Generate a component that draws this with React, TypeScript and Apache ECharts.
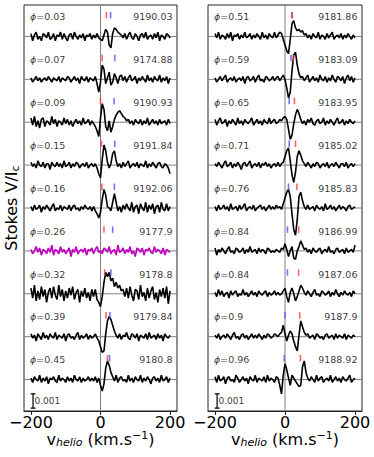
import React, { useEffect, useRef } from 'react';
import * as echarts from 'echarts';

// velocity sampling of the spectra (km/s)
const V_START = -200;
const V_STEP = 5;
// vertical offset between stacked profiles (Stokes V / Ic)
const OFFSET = 0.003;
const UNIT = 1e-4; // profile values are given in units of 1e-4
const X_MIN = -220;
const X_MAX = 220;
const Y_MIN = -22 * UNIT;
const Y_MAX = 8 * OFFSET + 22 * UNIT;

const leftPhases = ['0.03', '0.07', '0.09', '0.15', '0.16', '0.26', '0.32', '0.39', '0.45'];
const leftDates = ['9190.03', '9174.88', '9190.93', '9191.84', '9192.06', '9177.9', '9178.8', '9179.84', '9180.8'];
const leftRed = [17, 5, 0, 3, 4, 10, 12, 16, 20];
const leftBlue = [29, 41, 39, 41, 40, 35, 30, 27, 26];

const rightPhases = ['0.51', '0.59', '0.65', '0.71', '0.76', '0.84', '0.84', '0.9', '0.96'];
const rightDates = ['9181.86', '9183.09', '9183.95', '9185.02', '9185.83', '9186.99', '9187.06', '9187.9', '9188.92'];
const rightRed = [19, 24, 27, 30, 34, 39, 39, 42, 44];
const rightBlue = [21, 17, 12, 12, 10, 7, 7, 0, -2];

const xTicks = [-200, 0, 200];
const scaleBar = 0.001;

// Stokes V profiles (1e-4 units), sampled from -200 to 200 km/s every 5 km/s
const p003 = [2,-3,1,3,-2,0,-3,2,1,-1,3,-2,-1,2,-3,1,0,3,-2,2,-1,-3,1,2,-2,3,0,-2,1,-1,2,-3,1,0,2,-2,1,-1,2,-1,-2,-3,1,5,3,-6,-8,2,6,5,3,2,1,-1,2,-2,1,3,-1,-2,2,0,-3,1,2,-1,3,-2,0,1,-2,2,-1,3,-3,1,0,-2,2,1,-1];
const p007 = [1,-2,0,2,-1,1,-2,0,1,-1,2,0,-2,1,0,-1,2,-2,1,0,-1,2,1,-2,0,2,-1,1,-3,2,0,-1,2,-2,1,0,-1,2,-3,-9,-2,10,7,-3,1,5,-4,-2,4,1,-3,2,3,-1,2,-2,1,3,-1,0,2,-3,1,-1,2,0,-2,3,-1,1,-2,2,0,-1,3,-2,1,-1,2,-3,1];
const p009 = [3,-2,4,-3,1,-4,2,3,-3,1,0,-2,4,-1,2,-3,1,0,-2,3,-1,2,-2,1,-3,0,2,-1,1,-2,3,-1,0,2,-2,1,-1,-3,-6,-10,3,13,9,-3,-6,1,-7,-3,2,5,7,8,6,4,3,1,2,-1,1,-2,2,0,-1,2,-2,1,-1,3,-2,0,2,-1,1,-2,2,-1,0,1,-2,2,-1];
const p015 = [2,-1,1,-2,3,0,-1,2,-2,1,1,-3,2,0,-1,2,-1,1,-2,3,-1,0,2,-2,1,-1,2,1,-2,0,1,-1,2,-2,0,1,-1,1,-2,-6,-9,4,14,10,2,-2,1,8,10,3,-1,1,-2,2,-1,1,3,-2,0,1,-1,2,-2,1,0,-1,3,-2,1,-1,2,0,-2,1,2,-1,-2,1,0,-2,-6];
const p016 = [1,-2,2,-1,0,2,-3,1,-1,2,0,-2,1,3,-2,0,-1,2,-2,1,0,-1,2,-2,1,2,-1,0,-2,1,-1,2,0,-1,1,-2,1,-2,-4,-7,-3,6,13,9,1,0,-2,4,10,4,-2,1,-3,2,-1,3,0,-2,4,-3,1,2,-4,3,0,-2,4,-3,2,-1,3,-4,1,2,-3,4,-1,-2,3,-2,1];
const p026 = [1,-2,0,3,-1,2,-3,1,0,-2,2,-1,4,-3,1,0,-2,3,-1,1,-2,0,2,-4,1,-1,3,-2,0,1,-1,2,-3,1,0,2,-2,1,3,-1,0,-2,2,1,-1,3,-2,0,1,-3,4,-1,0,2,-2,1,-1,3,-2,0,-4,2,1,-1,2,-3,1,0,2,-1,-2,3,-1,1,0,-2,2,-3,1,0,-1];
const p032 = [4,-3,6,-5,2,-4,5,-2,3,-6,1,4,-3,5,-1,-4,6,-2,3,-5,2,-3,4,-1,5,-4,1,3,-6,2,-2,4,-3,1,-5,3,-2,3,-4,-6,-9,-2,8,15,12,15,9,11,5,8,4,6,2,3,-2,4,-3,5,-1,-5,3,2,-4,6,-2,1,-5,4,-3,2,5,-4,1,-6,3,-2,4,-3,5,-7,2];
const p039 = [2,-1,1,-3,2,0,-2,3,-1,1,-2,2,0,-1,3,-2,1,0,-1,2,-3,1,2,-1,0,-2,1,3,-2,1,-1,0,2,-2,1,-1,0,2,-1,-3,-7,-11,-10,2,11,14,12,8,4,1,-1,2,-2,1,0,3,-1,-2,2,1,-1,2,-3,1,0,-1,2,-2,3,-1,0,1,-2,2,-1,1,-3,2,0,-1,1];
const p045 = [1,-2,2,0,-1,3,-2,1,-1,2,-3,1,0,2,-1,-2,3,-1,1,0,-2,2,-1,1,-2,3,0,-1,2,-2,1,-1,0,2,-1,1,-1,2,-2,1,-4,-8,-3,8,13,10,5,2,-1,3,-2,1,2,-1,0,-2,3,-1,1,-2,2,0,-1,3,-2,1,-1,2,0,-3,1,2,-1,1,-2,3,-1,0,2,-2,1];

const p051 = [2,-1,3,-2,1,0,-2,2,-1,3,-3,1,0,2,-2,1,-1,3,-1,0,2,-2,1,-1,2,0,-2,3,-1,1,-2,2,0,-1,3,-1,1,3,2,-2,-6,-10,-12,-2,9,11,6,4,5,3,4,1,2,-1,1,-2,2,0,-1,3,-2,1,0,-2,2,-1,1,3,-2,0,1,-1,2,-2,1,-1,2,0,-2,1,-1];
const p059 = [1,-2,0,2,-1,1,3,-2,0,1,-1,2,-2,0,1,-1,2,-3,1,2,-1,0,2,-2,1,3,-1,0,-2,2,1,-1,0,2,-1,1,2,-1,1,3,0,-6,-13,-9,6,17,19,10,4,1,2,-1,1,3,-2,0,2,-1,1,-2,3,0,-1,2,-2,1,-1,3,0,-2,2,1,-1,2,-3,1,3,-1,2,-2,1];
const p065 = [2,-2,1,3,-1,0,2,-3,1,-1,2,0,-2,3,-1,1,-2,2,0,-1,1,3,-2,0,2,-1,1,-2,2,0,-1,3,-1,1,2,-1,0,2,1,3,4,2,-5,-12,-9,-1,5,9,6,2,-1,1,-2,2,0,3,-1,-2,1,2,-1,0,3,-2,1,-1,2,0,-2,1,3,-1,0,2,-2,1,-1,2,0,-1,1];
const p071 = [1,-1,2,0,-2,1,3,-1,0,2,-2,1,-1,2,0,-3,1,2,-1,1,3,-2,0,1,-1,2,-2,1,0,2,-1,1,-2,0,1,-1,2,-1,1,2,6,10,12,3,-7,-12,-5,6,10,7,3,1,-1,2,0,-2,1,-1,2,1,-2,0,1,-1,2,-2,0,1,-1,2,0,-2,1,1,-1,2,-2,0,1,-1,1];
const p076 = [1,-2,2,-1,0,2,-1,1,-2,3,-1,0,1,-2,2,-1,1,3,-2,0,1,-1,2,-2,0,1,2,-1,1,-2,0,2,-1,1,-1,2,0,1,-1,3,7,11,13,8,-4,-15,-19,-8,8,11,5,1,-1,2,-1,0,1,-2,2,0,-1,1,-2,3,-1,0,2,-1,1,-2,0,2,-1,1,0,-2,1,2,-1,0,1];
const p084a = [2,-3,1,-1,2,0,-2,1,3,-1,0,-2,2,1,-1,0,2,-2,1,-1,3,-1,0,1,-2,2,-1,1,0,-2,2,1,-1,0,-1,1,0,-1,2,1,5,1,-4,0,3,-5,-6,0,3,7,4,1,2,-1,1,-2,2,0,-1,1,2,-2,0,1,-1,3,-1,0,-2,1,2,-1,0,1,-2,2,-1,0,1,-1,4];
const p084b = [1,-2,3,-1,2,-2,0,1,-3,2,-1,1,2,-2,0,-1,3,-1,1,-2,0,2,-1,1,-2,2,0,-1,1,2,-2,1,-1,0,2,-1,1,-1,0,2,4,-2,-6,1,4,0,-5,-2,2,6,4,1,-1,2,0,-2,1,3,-1,0,-2,2,1,-1,0,2,-2,1,-1,3,0,-2,1,-1,2,0,-1,1,-2,2,0];
const p090 = [1,-1,2,-2,0,1,-1,2,0,-2,1,3,-1,0,-2,1,2,-1,1,-2,0,2,-1,1,-1,2,0,-2,1,-1,2,1,-1,0,2,1,0,2,3,8,2,-3,1,4,2,-3,-7,-10,1,11,7,3,1,2,-1,0,1,-2,2,1,-1,0,-2,1,2,-1,0,1,-2,2,-1,1,0,-1,2,-2,1,0,-1,1,0];
const p096 = [2,-2,3,-1,0,2,-3,1,2,-1,0,-2,3,1,-2,0,2,-1,1,-3,2,0,-1,3,-2,1,0,-1,2,-2,3,-1,1,0,-2,2,1,-4,-10,3,11,7,1,-4,3,1,-1,-3,-5,-4,9,13,5,1,-1,2,0,-2,3,-1,1,2,-2,0,1,-1,3,-2,0,2,-1,1,-2,2,0,-1,1,3,-2,0,1];

const leftProfiles = [p003, p007, p009, p015, p016, p026, p032, p039, p045];
const rightProfiles = [p051, p059, p065, p071, p076, p084a, p084b, p090, p096];
const leftColors = ['#000000', '#000000', '#000000', '#000000', '#000000', '#bf00bf', '#000000', '#000000', '#000000'];
const rightColors = ['#000000', '#000000', '#000000', '#000000', '#000000', '#000000', '#000000', '#000000', '#000000'];

const FONT = 'DejaVu Sans';

function seg(gi: number, pts: number[][], color: string, width: number, z: number) {
  return {
    type: 'line',
    xAxisIndex: gi,
    yAxisIndex: gi,
    symbol: 'none',
    showSymbol: false,
    silent: true,
    z,
    lineStyle: { color, width },
    data: pts,
  };
}

function panelSeries(
  gi: number,
  profiles: number[][],
  colors: string[],
  phases: string[],
  dates: string[],
  red: number[],
  blue: number[]
) {
  const n = profiles.length;
  const offsets = profiles.map((_, k) => (n - 1 - k) * OFFSET);
  const series: any[] = [];
  // reference lines: v = 0 and each profile's zero level
  series.push(seg(gi, [[0, Y_MIN], [0, Y_MAX]], '#808080', 1, 2));
  offsets.forEach((o) => series.push(seg(gi, [[X_MIN, o], [X_MAX, o]], '#808080', 1, 2)));
  profiles.forEach((prof, k) => {
    const off = offsets[k];
    series.push(
      seg(gi, prof.map((val, i) => [V_START + i * V_STEP, off + val * UNIT]), colors[k], 1.6, 3)
    );
  });
  // phase labels
  series.push({
    type: 'scatter',
    xAxisIndex: gi,
    yAxisIndex: gi,
    symbolSize: 0,
    silent: true,
    data: phases.map((p, k) => [-203, offsets[k] + 13.8 * UNIT, p]),
    label: {
      show: true,
      position: 'inside',
      align: 'left',
      verticalAlign: 'middle',
      color: '#000',
      fontFamily: FONT,
      fontSize: 9.5,
      formatter: (pr: any) => '{phi|ϕ}=' + pr.data[2],
      rich: { phi: { fontStyle: 'italic', fontSize: 9.5, fontFamily: FONT, color: '#000' } },
    },
  });
  // date labels
  series.push({
    type: 'scatter',
    xAxisIndex: gi,
    yAxisIndex: gi,
    symbolSize: 0,
    silent: true,
    data: dates.map((d, k) => [207, offsets[k] + 13.8 * UNIT, d]),
    label: {
      show: true,
      position: 'inside',
      align: 'right',
      verticalAlign: 'middle',
      color: '#000',
      fontFamily: FONT,
      fontSize: 9.5,
      formatter: (pr: any) => pr.data[2],
    },
  });
  // blue and red velocity marks
  series.push({
    type: 'scatter',
    xAxisIndex: gi,
    yAxisIndex: gi,
    symbol: 'rect',
    symbolSize: [1.6, 6.5],
    silent: true,
    z: 5,
    itemStyle: { color: '#5050ff' },
    data: blue.map((b, k) => [b, offsets[k] + 14.9 * UNIT]),
  });
  series.push({
    type: 'scatter',
    xAxisIndex: gi,
    yAxisIndex: gi,
    symbol: 'rect',
    symbolSize: [1.6, 6.5],
    silent: true,
    z: 5,
    itemStyle: { color: '#ff3b3b' },
    data: red.map((r, k) => [r, offsets[k] + 14.9 * UNIT]),
  });
  // scale bar (0.001)
  const yb = -20 * UNIT;
  const yt = yb + scaleBar;
  const xb = -194;
  series.push(seg(gi, [[xb, yb], [xb, yt]], '#000', 1.2, 4));
  series.push(seg(gi, [[xb - 7, yb], [xb + 7, yb]], '#000', 1.2, 4));
  series.push(seg(gi, [[xb - 7, yt], [xb + 7, yt]], '#000', 1.2, 4));
  series.push({
    type: 'scatter',
    xAxisIndex: gi,
    yAxisIndex: gi,
    symbolSize: 0,
    silent: true,
    data: [[xb + 4, (yb + yt) / 2, String(scaleBar)]],
    label: {
      show: true,
      position: 'inside',
      align: 'left',
      verticalAlign: 'middle',
      color: '#000',
      fontFamily: FONT,
      fontSize: 9,
      formatter: (pr: any) => pr.data[2],
    },
  });
  return series;
}

function makeXAxis(gi: number) {
  return {
    type: 'value',
    gridIndex: gi,
    min: X_MIN,
    max: X_MAX,
    splitLine: { show: false },
    axisLine: { show: true, onZero: false, lineStyle: { color: '#222', width: 1 } },
    axisTick: { show: true, customValues: xTicks, length: 4, lineStyle: { color: '#222' } },
    axisLabel: {
      customValues: xTicks,
      fontSize: 16,
      lineHeight: 14,
      fontFamily: FONT,
      color: '#000',
      margin: 4,
      formatter: (v: number) => String(v).replace('-', '\u2212'),
    },
    name: '{n|v}{sub|helio}{n| (km.s}{sup|\u22121}{n|)}',
    nameLocation: 'middle',
    nameGap: 19,
    nameMoveOverlap: false,
    nameTextStyle: {
      fontFamily: FONT,
      fontSize: 16,
      color: '#000',
      lineHeight: 18,
      verticalAlign: 'top',
      rich: {
        n: { fontSize: 16, fontFamily: FONT, color: '#000', verticalAlign: 'middle', lineHeight: 18 },
        sub: { fontSize: 11, fontFamily: FONT, fontStyle: 'italic', color: '#000', verticalAlign: 'bottom', lineHeight: 18 },
        sup: { fontSize: 11, fontFamily: FONT, color: '#000', verticalAlign: 'top', lineHeight: 18 },
      },
    },
  };
}

function makeYAxis(gi: number, withName: boolean) {
  return {
    type: 'value',
    gridIndex: gi,
    min: Y_MIN,
    max: Y_MAX,
    axisLine: { show: false },
    axisTick: { show: false },
    axisLabel: { show: false },
    splitLine: { show: false },
    name: withName ? '{n|Stokes V/I}{sub|c}' : '',
    nameLocation: 'middle',
    nameRotate: 90,
    nameGap: 3,
    nameMoveOverlap: false,
    nameTextStyle: {
      fontFamily: FONT,
      fontSize: 16,
      color: '#000',
      lineHeight: 20,
      rich: {
        n: { fontSize: 16, fontFamily: FONT, color: '#000', verticalAlign: 'middle' },
        sub: { fontSize: 11, fontFamily: FONT, color: '#000', verticalAlign: 'bottom' },
      },
    },
  };
}

export default function App() {
  const ref = useRef<HTMLDivElement>(null);
  useEffect(() => {
    if (!ref.current) return;
    const chart = echarts.init(ref.current, undefined, { renderer: 'svg' });
    chart.setOption({
      animation: false,
      backgroundColor: '#ffffff',
      textStyle: { fontFamily: FONT },
      grid: [
        { left: 24, top: 5, width: 153, height: 406, show: true, borderColor: '#222', borderWidth: 1, backgroundColor: 'transparent', outerBoundsMode: 'none', containLabel: false },
        { left: 208, top: 5, width: 154, height: 406, show: true, borderColor: '#222', borderWidth: 1, backgroundColor: 'transparent', outerBoundsMode: 'none', containLabel: false },
      ],
      xAxis: [makeXAxis(0), makeXAxis(1)],
      yAxis: [makeYAxis(0, true), makeYAxis(1, false)],
      series: [
        ...panelSeries(0, leftProfiles, leftColors, leftPhases, leftDates, leftRed, leftBlue),
        ...panelSeries(1, rightProfiles, rightColors, rightPhases, rightDates, rightRed, rightBlue),
      ],
    });
    return () => chart.dispose();
  }, []);
  return (
    <div
      ref={ref}
      style={{ position: 'fixed', left: 0, top: 0, width: 374, height: 457, background: '#fff' }}
    />
  );
}
